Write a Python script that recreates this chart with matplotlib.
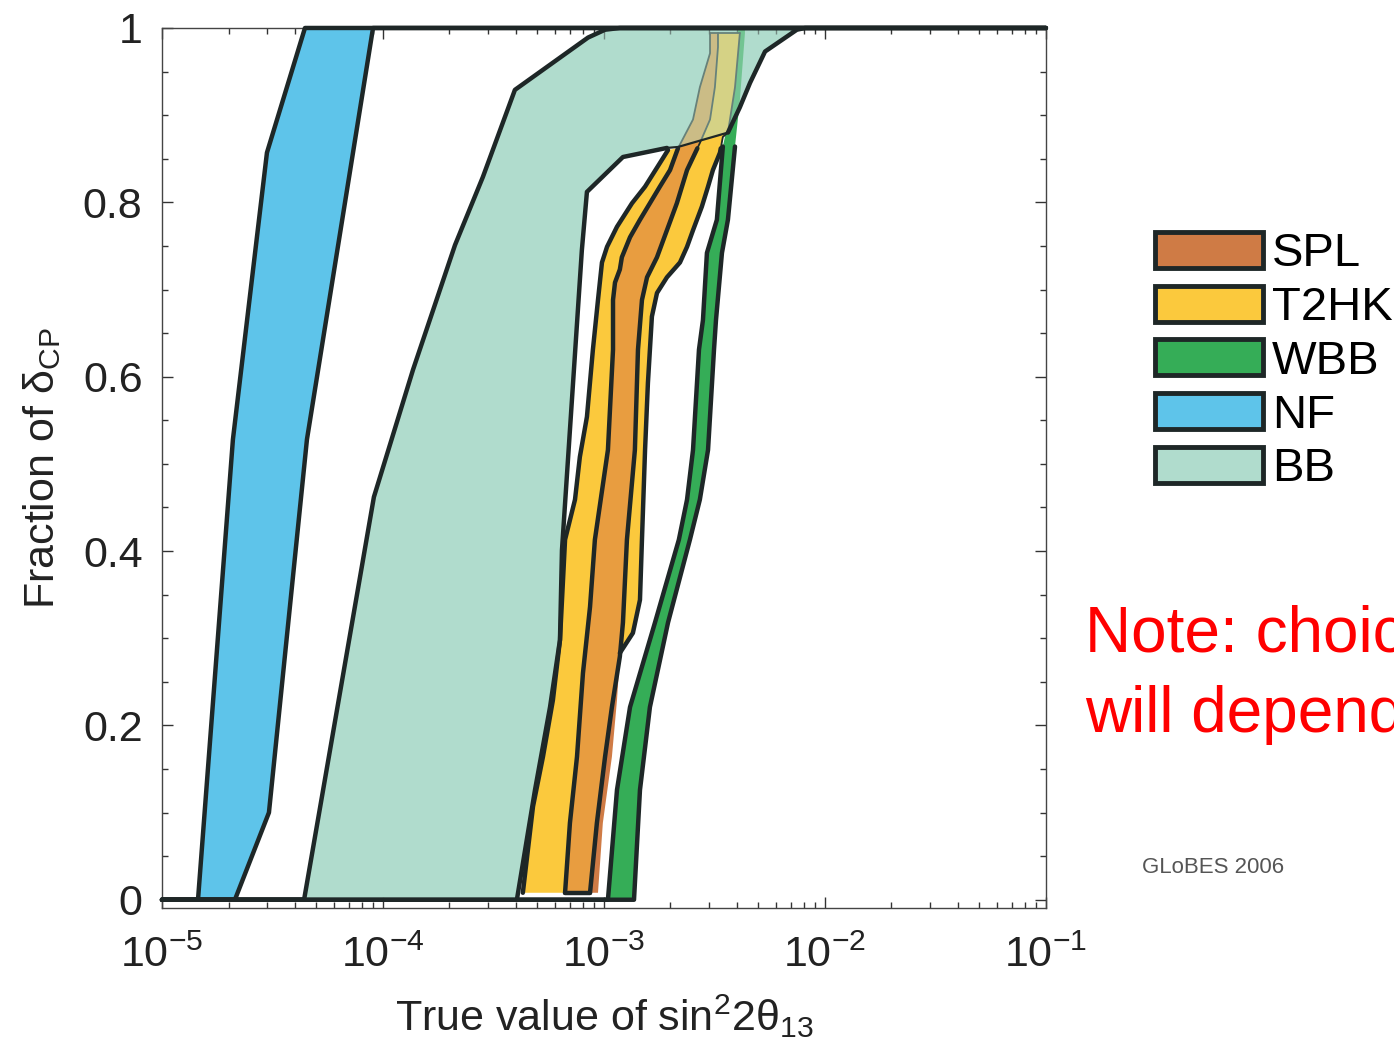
import numpy as np
import matplotlib
matplotlib.use("Agg")
import matplotlib.pyplot as plt
from matplotlib.patches import Patch
from matplotlib.ticker import MultipleLocator, LogLocator, NullFormatter

plt.rcParams["font.family"] = ["Liberation Sans", "DejaVu Sans"]
plt.rcParams["mathtext.fontset"] = "custom"
plt.rcParams["mathtext.rm"] = "Liberation Sans"
plt.rcParams["mathtext.it"] = "Liberation Sans:italic"
plt.rcParams["mathtext.bf"] = "Liberation Sans:bold"

# --- data: band edges, log10(sin^2 2theta13) vs fraction of delta_CP ---------
NF_Y_L = [0.0, 0.528, 0.857, 1.0]
NF_LX_L = [-4.837, -4.679, -4.525, -4.353]
NF_Y_R = [0.0, 0.100, 0.528, 1.0]
NF_LX_R = [-4.670, -4.516, -4.344, -4.045]

BB_Y_L = [0.0, 0.462, 0.608, 0.751, 0.829, 0.929, 0.989, 0.998, 1.0]
BB_LX_L = [-4.357, -4.041, -3.864, -3.674, -3.548, -3.403, -3.072, -2.995, -2.928]
BB_Y_R = [0.0, 0.126, 0.221, 0.298, 0.401, 0.573, 0.745, 0.812, 0.852, 0.8624,
          0.8635, 0.880, 0.909, 0.937, 0.973, 0.998, 1.0]
BB_LX_R = [-3.394, -3.312, -3.244, -3.199, -3.190, -3.145, -3.100, -3.077, -2.914,
           -2.715, -2.665, -2.439, -2.385, -2.339, -2.271, -2.127, -2.090]

T2HK_Y_L = [0.008, 0.107, 0.164, 0.229, 0.298, 0.413, 0.459, 0.508, 0.554, 0.631,
            0.688, 0.731, 0.749, 0.772, 0.799, 0.818, 0.845, 0.860]
T2HK_LX_L = [-3.367, -3.321, -3.276, -3.231, -3.199, -3.176, -3.131, -3.109, -3.077,
             -3.050, -3.027, -3.009, -2.986, -2.941, -2.873, -2.814, -2.747, -2.710]
T2HK_Y_R = [0.283, 0.306, 0.344, 0.413, 0.516, 0.593, 0.669, 0.696, 0.714, 0.731,
            0.749, 0.768, 0.795, 0.818, 0.837, 0.857, 0.875, 0.880, 0.932, 0.994]
T2HK_LX_R = [-2.928, -2.869, -2.837, -2.828, -2.814, -2.801, -2.783, -2.760, -2.715,
             -2.656, -2.624, -2.597, -2.557, -2.529, -2.507, -2.475, -2.462, -2.439,
             -2.407, -2.385]

SPL_Y_L = [0.008, 0.088, 0.164, 0.260, 0.336, 0.413, 0.516, 0.631, 0.688, 0.708,
           0.723, 0.737, 0.760, 0.780, 0.799, 0.818, 0.837, 0.862, 0.895, 0.932,
           0.971, 0.994]
SPL_LX_L = [-3.176, -3.154, -3.122, -3.095, -3.063, -3.041, -2.982, -2.959, -2.959,
            -2.950, -2.928, -2.919, -2.882, -2.837, -2.792, -2.747, -2.701, -2.665,
            -2.597, -2.566, -2.520, -2.520]
# inner edge shared by SPL and T2HK (right side of the overlap)
MID_Y = [0.008, 0.088, 0.164, 0.221, 0.279, 0.318, 0.413, 0.516, 0.631, 0.688,
         0.714, 0.737, 0.768, 0.799, 0.837, 0.868, 0.895, 0.932, 0.978, 0.994]
MID_LX = [-3.063, -3.032, -2.995, -2.964, -2.928, -2.914, -2.896, -2.860, -2.846,
          -2.828, -2.805, -2.760, -2.715, -2.670, -2.624, -2.566, -2.520, -2.498,
          -2.484, -2.484]
SPL_Y_R = [0.008, 0.088, 0.164, 0.229]
SPL_LX_R = [-3.027, -3.005, -2.964, -2.941]

WBB_Y = [0.0, 0.126, 0.221, 0.318, 0.413, 0.459, 0.516, 0.631, 0.665, 0.742, 0.780,
         0.864, 0.917, 0.994, 1.0]
WBB_LX_L = [-2.982, -2.941, -2.882, -2.769, -2.661, -2.624, -2.597, -2.570, -2.552,
            -2.534, -2.489, -2.462, -2.416, -2.394, -2.394]
WBB_LX_R = [-2.864, -2.837, -2.792, -2.710, -2.611, -2.566, -2.529, -2.502, -2.493,
            -2.466, -2.439, -2.407, -2.385, -2.362, -2.362]

LABELS = ["SPL", "T2HK", "WBB", "NF", "BB"]

C_SPL, C_T2HK, C_WBB, C_NF, C_BB = "#cf7b45", "#fbc93d", "#35ad57", "#5ec4ea", "#b0dccd"
C_BOTH = "#e89d40"
INK = "#1e2727"
Y_TOP = 0.862  # above this the bands sit inside BB and are drawn washed out


def band(ax, ya, lxa, yb, lxb, **kw):
    xs = np.r_[10.0 ** np.asarray(lxa), 10.0 ** np.asarray(lxb)[::-1]]
    ys = np.r_[ya, np.asarray(yb)[::-1]]
    ax.fill(xs, ys, lw=0, **kw)


def edge(ax, y, lx, ext=False, lw=3.2, z=5):
    y, lx = list(y), list(lx)
    if ext:
        y = [0.0] + y + [1.0]
        lx = [-5.0] + lx + [-1.0]
    ax.plot(10.0 ** np.array(lx), y, color=INK, lw=lw, zorder=z, clip_on=False,
            solid_joinstyle="round", solid_capstyle="round")


def edge_split(ax, y, lx, cut=Y_TOP, z=3):
    y, lx = np.asarray(y), np.asarray(lx)
    xc = np.interp(cut, y, lx)
    lo = y <= cut
    edge(ax, np.r_[y[lo], cut], np.r_[lx[lo], xc], z=z)
    edge(ax, np.r_[cut, y[~lo]], np.r_[xc, lx[~lo]], lw=1.3, z=z)


fig = plt.figure(figsize=(13.94, 10.40), dpi=100)
ax = fig.add_axes([0.1162, 0.1269, 0.6341, 0.8462])

band(ax, BB_Y_L, BB_LX_L, BB_Y_R, BB_LX_R, color=C_BB, zorder=1)
band(ax, NF_Y_L, NF_LX_L, NF_Y_R, NF_LX_R, color=C_NF, zorder=2)
band(ax, WBB_Y, WBB_LX_L, WBB_Y, WBB_LX_R, color=C_WBB, zorder=2)

mid_y, mid_lx = np.asarray(MID_Y), np.asarray(MID_LX)
up = mid_y >= T2HK_Y_R[0]
# T2HK: outer left -> inner left at top -> outer right -> shared edge at bottom
t2_y = np.r_[T2HK_Y_L, [y for y in SPL_Y_L if y > T2HK_Y_L[-1]]]
t2_lx = np.r_[T2HK_LX_L, [x for y, x in zip(SPL_Y_L, SPL_LX_L) if y > T2HK_Y_L[-1]]]
t2r_y = np.r_[mid_y[~up], T2HK_Y_R]
t2r_lx = np.r_[mid_lx[~up], T2HK_LX_R]
band(ax, t2_y, t2_lx, t2r_y, t2r_lx, color=C_T2HK, zorder=2.1)
sr = mid_y >= 0.279
band(ax, SPL_Y_L, SPL_LX_L, np.r_[SPL_Y_R, mid_y[sr]], np.r_[SPL_LX_R, mid_lx[sr]],
     color=C_SPL, zorder=2.2)
band(ax, SPL_Y_L, SPL_LX_L, MID_Y, MID_LX, color=C_BOTH, zorder=2.3)

# outlines of the accelerator bands
edge(ax, T2HK_Y_L, T2HK_LX_L, z=3)
edge_split(ax, SPL_Y_L, SPL_LX_L)
edge_split(ax, MID_Y, MID_LX)
edge_split(ax, T2HK_Y_R, T2HK_LX_R)
edge(ax, [SPL_Y_L[0], MID_Y[0]], [SPL_LX_L[0], MID_LX[0]], z=3)
edge(ax, [SPL_Y_L[-1], T2HK_Y_R[-1]], [SPL_LX_L[-1], T2HK_LX_R[-1]], lw=1.3, z=3)
wl = np.asarray(WBB_Y) <= 0.90
edge(ax, [0.0] + list(np.asarray(WBB_Y)[wl]), [-5.0] + list(np.asarray(WBB_LX_L)[wl]), z=3)
edge(ax, [0.0] + list(np.asarray(WBB_Y)[wl]), [-5.0] + list(np.asarray(WBB_LX_R)[wl]), z=3)

# BB laid over the top parts again, semi-transparent
band(ax, BB_Y_L, BB_LX_L, BB_Y_R, BB_LX_R, color=C_BB, alpha=0.5, zorder=4)

edge(ax, BB_Y_L, BB_LX_L, ext=True)
# right edge of BB: thin where it cuts across the accelerator bands
i0, i1 = BB_Y_R.index(0.8624), BB_Y_R.index(0.880)
edge(ax, [0.0] + BB_Y_R[:i0 + 1], [-5.0] + BB_LX_R[:i0 + 1])
edge(ax, BB_Y_R[i0:i1 + 1], BB_LX_R[i0:i1 + 1], lw=1.6)
edge(ax, BB_Y_R[i1:] + [1.0], BB_LX_R[i1:] + [-1.0])
edge(ax, NF_Y_L, NF_LX_L, ext=True)
edge(ax, NF_Y_R, NF_LX_R, ext=True)

ax.set_xscale("log")
ax.set_xlim(1e-5, 1e-1)
ax.set_ylim(-0.0095, 1.0)
ax.xaxis.set_major_locator(LogLocator(base=10, numticks=10))
ax.xaxis.set_minor_locator(LogLocator(base=10, subs=np.arange(2, 10), numticks=20))
ax.xaxis.set_minor_formatter(NullFormatter())
ax.yaxis.set_major_locator(MultipleLocator(0.2))
ax.yaxis.set_minor_locator(MultipleLocator(0.05))
ax.set_yticks([0, 0.2, 0.4, 0.6, 0.8, 1.0], ["0", "0.2", "0.4", "0.6", "0.8", "1"])
ax.tick_params(which="both", direction="in", top=True, right=True, color="#333",
               width=1.0, labelsize=31, labelcolor="#222")
ax.tick_params(which="major", length=8)
ax.tick_params(which="minor", length=4)
ax.tick_params(axis="y", pad=14)
ax.tick_params(axis="x", pad=20)
for s in ax.spines.values():
    s.set_color("#444")
    s.set_linewidth(1.0)

ax.set_xlabel(r"True value of $\mathrm{sin^2 2\theta_{13}}$", fontsize=31, color="#222",
              labelpad=12)
ax.set_ylabel(r"Fraction of $\mathrm{\delta_{CP}}$", fontsize=31, color="#222", labelpad=14)

handles = [Patch(facecolor=c, edgecolor=INK, linewidth=3.5)
           for c in [C_SPL, C_T2HK, C_WBB, C_NF, C_BB]]
fig.legend(handles, LABELS, loc="upper left", bbox_to_anchor=(0.8286, 0.777),
           frameon=False, fontsize=34, handlelength=2.28, handleheight=0.79,
           handletextpad=0.2, labelspacing=0.2, borderaxespad=0, borderpad=0)

fig.text(0.7785, 1 - 652 / 1040, "Note: choice of experiment", color="red",
         fontsize=46, va="baseline", ha="left")
fig.text(0.7785, 1 - 732 / 1040, "will depend on \u03b813", color="red",
         fontsize=46, va="baseline", ha="left")
fig.text(0.8195, 1 - 873 / 1040, "GLoBES 2006", color="#555", fontsize=16,
         va="baseline", ha="left")

fig.savefig("out.png", dpi=100)
